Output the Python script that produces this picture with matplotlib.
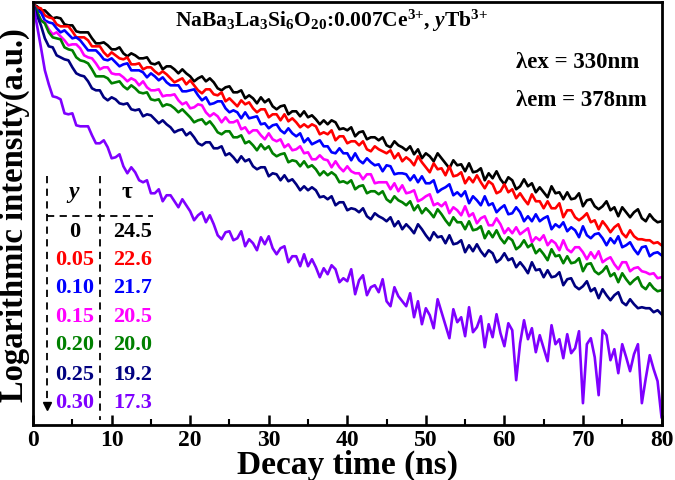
import numpy as np
import matplotlib
matplotlib.use("Agg")
import matplotlib.pyplot as plt

plt.rcParams['font.family'] = ['Liberation Serif', 'DejaVu Serif']
plt.rcParams['font.weight'] = 'bold'
plt.rcParams['mathtext.fontset'] = 'custom'
plt.rcParams['mathtext.rm'] = 'Liberation Serif:bold'
plt.rcParams['mathtext.it'] = 'Liberation Serif:bold:italic'
plt.rcParams['mathtext.bf'] = 'Liberation Serif:bold'

# ====== data: log intensity x100 (a.u.), one sample every 0.5 ns from 0 to 80 ns ======
step_ns = 0.5

y_000 = [421, 419, 415, 415, 411, 407, 408, 407, 401, 400, 400, 394, 393, 393, 393, 387,
         382, 382, 383, 380, 376, 376, 378, 372, 369, 372, 370, 367, 367, 368, 362, 361,
         363, 356, 359, 359, 356, 352, 356, 352, 349, 344, 347, 349, 344, 347, 343, 337,
         335, 338, 339, 333, 333, 335, 327, 330, 327, 322, 328, 323, 326, 319, 316, 319,
         320, 311, 314, 314, 309, 314, 308, 310, 306, 301, 305, 301, 305, 303, 296, 297,
         295, 298, 289, 293, 294, 286, 288, 288, 285, 288, 280, 278, 284, 280, 278, 275,
         279, 271, 276, 267, 272, 269, 264, 272, 267, 262, 257, 265, 260, 261, 254, 262,
         253, 254, 257, 245, 252, 247, 254, 246, 241, 248, 245, 236, 239, 246, 239, 242,
         233, 238, 233, 228, 239, 232, 233, 226, 233, 226, 227, 232, 219, 225, 226, 219,
         216, 219, 224, 215, 218, 209, 218, 213, 208, 213, 216, 207, 204, 211, 206, 203, 204]
y_005 = [421, 418, 417, 410, 408, 407, 401, 399, 399, 399, 394, 388, 388, 388, 385, 379,
         379, 379, 373, 369, 373, 370, 367, 366, 368, 361, 361, 362, 356, 358, 358, 354,
         351, 354, 351, 347, 343, 345, 347, 341, 345, 340, 335, 332, 336, 336, 331, 330,
         333, 324, 327, 323, 319, 325, 321, 323, 317, 313, 316, 316, 308, 311, 311, 305,
         311, 304, 307, 303, 298, 301, 298, 301, 299, 291, 293, 291, 295, 285, 289, 289,
         282, 284, 284, 280, 284, 276, 274, 279, 276, 274, 272, 275, 267, 272, 264, 268,
         265, 260, 269, 263, 258, 253, 262, 256, 257, 250, 259, 249, 250, 253, 242, 248,
         243, 250, 243, 237, 244, 241, 232, 234, 241, 233, 236, 227, 232, 226, 221, 231,
         224, 224, 217, 224, 217, 217, 222, 208, 215, 215, 208, 205, 208, 212, 203, 205,
         196, 204, 199, 193, 198, 201, 192, 188, 195, 189, 186, 186, 185, 185, 182, 183, 180]
y_010 = [421, 415, 413, 405, 403, 402, 397, 393, 395, 391, 387, 388, 385, 380, 375, 375,
         375, 371, 366, 365, 367, 363, 359, 361, 362, 355, 355, 355, 353, 348, 352, 349,
         345, 348, 343, 340, 340, 340, 334, 334, 335, 336, 330, 325, 328, 321, 322, 324,
         324, 317, 313, 315, 313, 307, 313, 307, 308, 309, 301, 302, 297, 300, 301, 295,
         292, 297, 292, 289, 292, 283, 287, 281, 283, 285, 279, 279, 273, 272, 277, 272,
         272, 265, 272, 265, 262, 267, 263, 260, 261, 254, 260, 259, 251, 252, 252, 251,
         245, 250, 243, 249, 242, 242, 245, 233, 236, 238, 241, 230, 233, 229, 234, 222,
         229, 225, 220, 229, 220, 222, 213, 217, 220, 211, 212, 218, 213, 204, 209, 204,
         211, 204, 207, 209, 196, 201, 198, 203, 194, 198, 195, 188, 199, 190, 187, 191,
         192, 187, 180, 187, 182, 189, 178, 180, 183, 176, 171, 178, 179, 169, 172, 173, 170]
y_015 = [421, 413, 405, 403, 396, 391, 393, 389, 385, 380, 381, 381, 377, 370, 368, 367,
         362, 356, 358, 358, 352, 351, 351, 348, 344, 347, 345, 340, 344, 338, 335, 335,
         336, 329, 330, 330, 331, 325, 321, 323, 317, 318, 321, 320, 313, 309, 312, 309,
         303, 308, 303, 303, 305, 296, 298, 292, 295, 295, 290, 286, 292, 286, 284, 286,
         278, 281, 275, 276, 279, 272, 273, 266, 266, 270, 266, 265, 258, 264, 258, 254,
         259, 254, 252, 252, 246, 251, 251, 242, 243, 243, 243, 236, 242, 234, 240, 232,
         233, 235, 224, 226, 229, 231, 220, 222, 219, 223, 212, 218, 215, 210, 219, 209,
         212, 202, 207, 209, 200, 200, 207, 201, 192, 197, 192, 198, 191, 194, 197, 183,
         188, 185, 190, 180, 185, 182, 175, 185, 176, 173, 178, 178, 173, 166, 173, 167,
         174, 163, 166, 168, 161, 156, 163, 163, 154, 157, 158, 154, 153, 151, 152, 147, 148]
y_020 = [421, 414, 405, 402, 393, 388, 387, 386, 378, 376, 375, 368, 365, 364, 362, 356,
         349, 349, 349, 347, 342, 343, 344, 339, 336, 340, 337, 333, 332, 333, 326, 325,
         326, 319, 321, 320, 317, 313, 316, 312, 308, 303, 305, 306, 301, 304, 299, 293,
         291, 294, 294, 288, 288, 290, 282, 284, 280, 275, 281, 276, 279, 272, 269, 271,
         272, 263, 265, 264, 259, 264, 258, 260, 256, 250, 254, 250, 253, 250, 243, 244,
         242, 245, 236, 239, 240, 232, 234, 234, 231, 234, 226, 223, 229, 225, 223, 220,
         224, 215, 220, 212, 217, 213, 208, 216, 211, 205, 200, 208, 203, 203, 196, 204,
         195, 196, 199, 187, 194, 188, 195, 187, 182, 188, 185, 176, 179, 185, 178, 181,
         172, 176, 171, 165, 176, 169, 170, 162, 169, 162, 163, 167, 154, 161, 162, 154,
         151, 154, 159, 149, 152, 143, 152, 146, 141, 145, 148, 139, 136, 142, 137, 134, 135]
y_025 = [421, 410, 400, 387, 379, 378, 370, 368, 366, 365, 358, 352, 350, 349, 344, 337,
         335, 335, 328, 325, 328, 326, 322, 321, 322, 316, 315, 316, 309, 311, 310, 306,
         302, 305, 301, 298, 293, 295, 296, 290, 293, 288, 282, 280, 283, 283, 277, 277,
         279, 270, 272, 268, 263, 269, 264, 266, 259, 256, 258, 258, 249, 252, 251, 245,
         250, 244, 246, 241, 235, 239, 235, 238, 235, 228, 229, 226, 229, 220, 223, 223,
         215, 217, 216, 213, 217, 209, 206, 212, 209, 207, 204, 208, 199, 204, 196, 201,
         197, 192, 201, 196, 190, 185, 193, 188, 189, 182, 190, 181, 182, 185, 173, 180,
         174, 181, 174, 169, 175, 172, 163, 166, 172, 165, 167, 158, 163, 158, 152, 163,
         155, 156, 148, 155, 148, 149, 153, 140, 146, 147, 139, 136, 139, 144, 134, 137,
         127, 136, 130, 125, 130, 133, 123, 120, 126, 121, 117, 118, 117, 117, 113, 115, 111]
y_030 = [421, 400, 378, 355, 341, 329, 328, 326, 312, 311, 312, 300, 299, 299, 299, 290,
         282, 282, 285, 278, 267, 268, 271, 259, 252, 258, 253, 245, 243, 245, 232, 232,
         236, 224, 230, 230, 224, 218, 226, 220, 214, 205, 210, 213, 203, 210, 201, 190,
         186, 193, 194, 185, 187, 194, 179, 186, 182, 175, 188, 181, 189, 177, 171, 177,
         179, 163, 169, 169, 159, 171, 159, 166, 158, 148, 157, 151, 160, 156, 143, 147,
         144, 156, 131, 145, 150, 130, 138, 140, 133, 146, 124, 119, 138, 129, 124, 119,
         132, 108, 124, 101, 117, 110, 97, 126, 113, 100, 87, 116, 103, 108, 89, 118,
         93, 98, 109, 78, 101, 88, 111, 92, 79, 102, 95, 45, 82, 105, 86, 97,
         73, 90, 77, 64, 100, 81, 86, 67, 91, 72, 77, 94, 22, 81, 87, 68,
         30, 95, 90, 65, 76, 52, 81, 68, 54, 71, 81, 22, 47, 70, 56, 44, 8]

tb_conc = ["0", "0.05", "0.10", "0.15", "0.20", "0.25", "0.30"]
tau_ns = ["24.5", "22.6", "21.7", "20.5", "20.0", "19.2", "17.3"]
colors = ["black", "#ff0000", "#0000ff", "#ff00ff", "#008000", "#000080", "#7f00ff"]
series = [y_000, y_005, y_010, y_015, y_020, y_025, y_030]

fig = plt.figure(figsize=(6.75, 4.81), dpi=100)
ax = fig.add_axes([0.049, 0.114, 0.931, 0.879])

for ys, c in zip(series, colors):
    ys = np.array(ys) / 100.0
    t = np.arange(len(ys)) * step_ns
    ax.plot(t, ys, color=c, lw=1.9)

ax.set_xlim(0, 80)
ax.set_ylim(0, 4.23)
ax.set_xticks(np.arange(0, 81, 10))
ax.set_xticks(np.arange(0, 81, 5), minor=True)
ax.set_yticks([])
ax.tick_params(axis='x', which='major', direction='in', length=7, width=1.8, labelsize=17, pad=3)
ax.tick_params(axis='x', which='minor', direction='in', length=4, width=1.5)
for lab in ax.get_xticklabels():
    lab.set_fontweight('bold')
for sp in ax.spines.values():
    sp.set_linewidth(2.0)

ax.set_xlabel("Decay time (ns)", fontsize=24, fontweight='bold', labelpad=-1)
ax.set_ylabel("Logarithmic intensity(a.u.)", fontsize=23.5, fontweight='bold', labelpad=2)

# ====== подписи ======
ax.text(0.475, 0.958, r'NaBa$_3$La$_3$Si$_6$O$_{20}$:0.007Ce$^{3{+}}$, $y$Tb$^{3{+}}$',
        transform=ax.transAxes, ha='center', va='center', fontsize=15.5)
ax.text(0.768, 0.861, "λex = 330nm", transform=ax.transAxes, ha='left', va='center', fontsize=16.5)
ax.text(0.768, 0.771, "λem = 378nm", transform=ax.transAxes, ha='left', va='center', fontsize=16.5)

# ====== таблица y / tau ======
dash = (0, (4, 3))
ax.plot([0.0223, 0.0223], [0.589, 0.06], color='black', lw=1.3, ls=dash, transform=ax.transAxes)
ax.plot([0.0223], [0.045], marker='v', color='black', ms=6, transform=ax.transAxes)
ax.plot([0.1067, 0.1067], [0.589, 0.012], color='black', lw=1.3, ls=dash, transform=ax.transAxes)
ax.plot([0.022, 0.191], [0.494, 0.494], color='black', lw=1.3, ls=dash, transform=ax.transAxes)
ax.text(0.064, 0.553, "y", style='italic', transform=ax.transAxes, ha='center', va='center', fontsize=17)
ax.text(0.150, 0.553, "τ", transform=ax.transAxes, ha='center', va='center', fontsize=17)
row_y = [0.459, 0.392, 0.326, 0.258, 0.191, 0.121, 0.054]
for yy, conc, tau, c in zip(row_y, tb_conc, tau_ns, colors):
    ax.text(0.066, yy, conc, color=c, transform=ax.transAxes, ha='center', va='center', fontsize=16)
    ax.text(0.158, yy, tau, color=c, transform=ax.transAxes, ha='center', va='center', fontsize=16)

fig.savefig("out.png", dpi=100)
